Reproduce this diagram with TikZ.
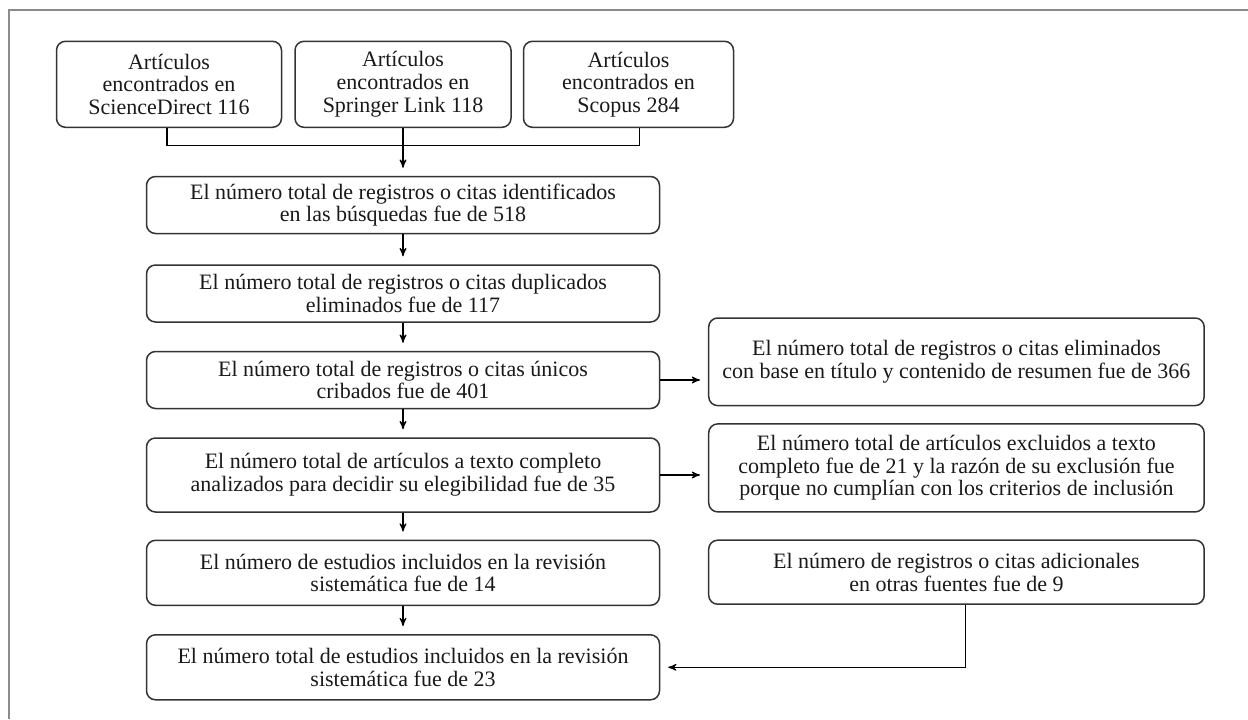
\documentclass[tikz,border=0pt]{standalone}
\usepackage{fontspec}
\setmainfont{Liberation Serif}
\usetikzlibrary{arrows,positioning}

\begin{document}
\begin{tikzpicture}[x=0.5pt,y=-0.5pt,>=stealth',node distance=14pt,
  caja/.style={draw=black!80,line width=0.75pt,rounded corners=4.5pt,align=center,
    inner sep=0pt,text=black!90,font=\fontsize{11}{11.3}\selectfont},
  flecha/.style={->,line width=0.55pt,shorten >=4pt}]
\useasboundingbox (0,0) rectangle (1248,719);
% marco
\draw[black!45,line width=1pt] (9.3,719) -- (9.3,10) -- (1248,10);

% columna principal
\node[caja,minimum width=256.5pt,minimum height=28.5pt] (A) at (403,205)
  {El número total de registros o citas identificados\\en las búsquedas fue de 518};
\node[caja,minimum width=256.5pt,minimum height=28.5pt] (B) [below=15pt of A]
  {El número total de registros o citas duplicados\\eliminados fue de 117};
\node[caja,minimum width=256.5pt,minimum height=28.5pt] (C) [below=of B]
  {El número total de registros o citas únicos\\cribados fue de 401};
\node[caja,minimum width=256.5pt,minimum height=37pt] (D) [below=of C]
  {El número total de artículos a texto completo\\analizados para decidir su elegibilidad fue de 35};
\node[caja,minimum width=256.5pt,minimum height=32.5pt] (E) [below=13.4pt of D]
  {El número de estudios incluidos en la revisión\\sistemática fue de 14};
\node[caja,minimum width=256.5pt,minimum height=32.5pt] (F) [below=of E]
  {El número total de estudios incluidos en la revisión\\sistemática fue de 23};

% fila de bases de datos
\node[caja,minimum width=108pt,minimum height=43pt] (T2) [above=23.85pt of A]
  {Artículos\\encontrados en\\Springer Link 118};
\node[caja,minimum width=112.5pt,minimum height=43pt] (T1) [left=6pt of T2]
  {Artículos\\encontrados en\\ScienceDirect 116};
\node[caja,minimum width=105pt,minimum height=43pt] (T3) [right=5.5pt of T2]
  {Artículos\\encontrados en\\Scopus 284};

% columna derecha
\node[caja,minimum width=247.75pt,minimum height=43.8pt] (R1) [right=23.85pt of C,yshift=9.1pt]
  {El número total de registros o citas eliminados\\con base en título y contenido de resumen fue de 366};
\node[caja,minimum width=247.75pt,minimum height=44pt] (R2) [right=23.85pt of D,yshift=3.55pt]
  {El número total de artículos excluidos a texto\\completo fue de 21 y la razón de su exclusión fue\\porque no cumplían con los criterios de inclusión};
\node[caja,minimum width=247.75pt,minimum height=32pt] (R3) [below=13.4pt of R2]
  {El número de registros o citas adicionales\\en otras fuentes fue de 9};

% conectores
\draw[line width=0.55pt] ([xshift=-1pt]T1.south) -- ++(0,17) -| ([xshift=5.5pt]T3.south);
\draw[flecha] (T2) -- (A);
\draw[flecha] (A) -- (B);
\draw[flecha] (B) -- (C);
\draw[flecha] (C) -- (D);
\draw[flecha] (D) -- (E);
\draw[flecha] (E) -- (F);
\draw[flecha] (C.east) -- (C.east -| R1.west);
\draw[flecha] (D.east) -- (D.east -| R2.west);
\draw[flecha] ([xshift=4.5pt]R3.south) |- (F.east);
\end{tikzpicture}
\end{document}
